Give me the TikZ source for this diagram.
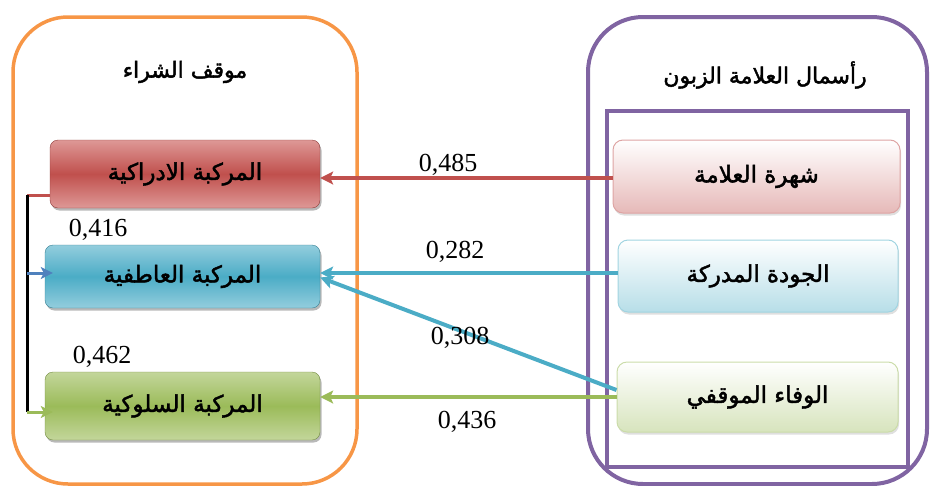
\documentclass[tikz,border=0pt]{standalone}
\usepackage{fontspec}
\usetikzlibrary{arrows.meta,shadows}
\TeXXeTstate=1
\newfontfamily\arabicfont[Script=Arabic,FakeBold=2]{DejaVu Sans}
\newfontfamily\numfont{Liberation Serif}

\definecolor{offred}{HTML}{C0504D}
\definecolor{offredlt}{HTML}{DE9896}
\definecolor{offblue}{HTML}{4BACC6}
\definecolor{offbluelt}{HTML}{93CDDD}
\definecolor{offgreen}{HTML}{9BBB59}
\definecolor{offgreenlt}{HTML}{C3D69B}
\definecolor{offnavy}{HTML}{4F81BD}
\definecolor{offorange}{HTML}{F79646}
\definecolor{offpurple}{HTML}{8064A2}
\definecolor{palered}{HTML}{E6B9B8}
\definecolor{paleblue}{HTML}{B7DEE8}
\definecolor{palegreen}{HTML}{D7E4BD}

\newcommand{\ar}[1]{{\arabicfont\beginR #1\endR}}

\tikzset{
  frame/.style={line width=3.5pt, rounded corners=55pt},
  darkbox/.style={rounded corners=8pt, inner sep=0pt, font=\fontsize{23}{26}\selectfont,
    drop shadow={shadow xshift=1.5pt, shadow yshift=-2.5pt, opacity=0.55}},
  palebox/.style={rounded corners=10pt, inner sep=0pt, line width=1pt, font=\fontsize{23}{26}\selectfont,
    drop shadow={shadow xshift=1pt, shadow yshift=-2.5pt, opacity=0.25}},
  link/.style={line width=4pt, -{Stealth[length=13pt,width=13pt,inset=3pt]}},
  sublink/.style={line width=3pt, -{Stealth[length=12pt,width=12pt,inset=3pt]}},
  weight/.style={font=\numfont\fontsize{26}{29}\selectfont, inner sep=0pt},
  heading/.style={font=\fontsize{22}{25}\selectfont, inner sep=0pt}
}

\begin{document}
\begin{tikzpicture}[x=1pt,y=-1pt]
\useasboundingbox (0,0) rectangle (931,485);

% outer frames
\draw[frame, offorange] (13,17) rectangle (357,484);
\draw[frame, offpurple, line width=4pt] (588,17) rectangle (927,484);
\draw[offpurple, line width=4pt] (607,111) rectangle (908,467);

% headings
\node[heading] (leftTitle) at (185,72) {\ar{موقف الشراء}};
\node[heading] (rightTitle) at (765,75) {\ar{رأسمال العلامة الزبون}};

% purchase attitude components
\node[darkbox, draw=offred!75!black, top color=offredlt, bottom color=offredlt, middle color=offred,
      minimum width=270pt, minimum height=68pt] (cog) at (185,174) {\ar{المركبة الادراكية}};
\node[darkbox, draw=offblue!75!black, top color=offbluelt, bottom color=offbluelt, middle color=offblue,
      minimum width=275pt, minimum height=63pt] (aff) at (182.5,276.5) {\ar{المركبة العاطفية}};
\node[darkbox, draw=offgreen!75!black, top color=offgreenlt, bottom color=offgreenlt, middle color=offgreen,
      minimum width=275pt, minimum height=68pt] (beh) at (182.5,406) {\ar{المركبة السلوكية}};

% brand equity dimensions
\node[palebox, draw=palered!80!offred, top color=white, bottom color=palered,
      minimum width=287pt, minimum height=73pt] (fame) at (756.5,176.5) {\ar{شهرة العلامة}};
\node[palebox, draw=paleblue!80!offblue, top color=white, bottom color=paleblue,
      minimum width=280pt, minimum height=72pt] (qual) at (758,276) {\ar{الجودة المدركة}};
\node[palebox, draw=palegreen!80!offgreen, top color=white, bottom color=palegreen,
      minimum width=281pt, minimum height=70pt] (loy) at (757.5,397) {\ar{الوفاء الموقفي}};

% paths between the two blocks
\draw[link, offred] ([yshift=-1.5pt]fame.west) -- ([yshift=-1.5pt]fame.west -| cog.east);
\draw[link, offblue] ([yshift=3pt]qual.west) -- ([yshift=3pt]qual.west -| aff.east);
\draw[link, offblue] ([yshift=7pt]loy.west) -- ([yshift=-1pt]aff.east);
\draw[link, offgreen] (loy.west) -- (loy.west -| beh.east);

% path weights
\node[weight] (w1) at (448,165) {0,485};
\node[weight] (w2) at (455,252) {0,282};
\node[weight] (w3) at (460,338) {0,308};
\node[weight] (w4) at (467,422) {0,436};

% links inside the attitude block
\coordinate (spineTop) at (27,195);
\coordinate (spineBot) at (27,412);
\draw[offred, line width=3pt] (spineTop) -- (spineTop -| cog.west);
\draw[black, line width=3pt] (spineTop) -- (spineBot);
\draw[sublink, offnavy] ([yshift=3.5pt]spineTop |- aff.west) -- ([yshift=3.5pt,xshift=8pt]aff.west);
\draw[sublink, offgreen] (spineBot) -- ([xshift=8pt]spineBot -| beh.west);

\node[weight] (w5) at (98,230) {0,416};
\node[weight] (w6) at (102,357) {0,462};
\end{tikzpicture}
\end{document}
